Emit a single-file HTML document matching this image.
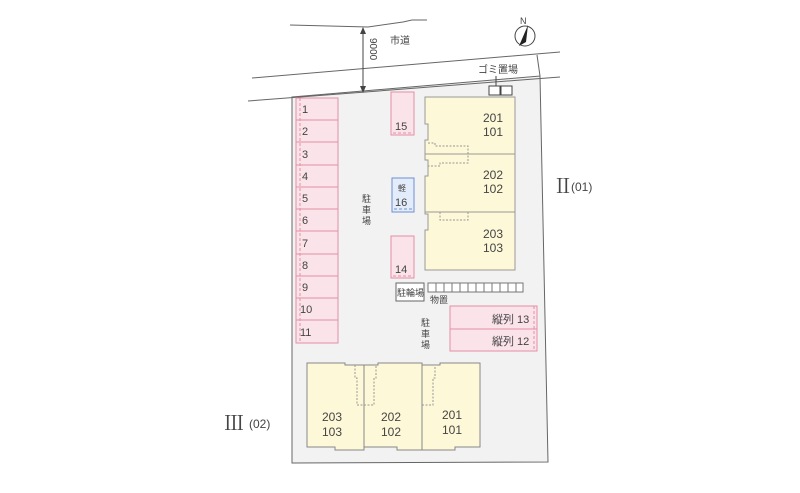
<!DOCTYPE html><html><head><meta charset="utf-8"><style>body{margin:0;background:#fff}svg{display:block}text{font-family:"Liberation Sans","Noto Sans CJK JP",sans-serif;fill:#444}</style></head><body>
<svg width="800" height="493" viewBox="0 0 800 493">
<polygon points="292,97 540,76 548,462 292,463" fill="#f2f2f3" stroke="#666" stroke-width="1"/>
<polyline points="290,25 368,27 403,22 412,20 427,20" fill="none" stroke="#666"/>
<line x1="252" y1="78" x2="560" y2="52" stroke="#666"/>
<line x1="248" y1="101" x2="560" y2="77" stroke="#666"/>
<line x1="537" y1="55" x2="540" y2="76" stroke="#666"/>
<line x1="363" y1="29" x2="363" y2="91" stroke="#444"/>
<polygon points="363,27 360,34 366,34" fill="#444"/><polygon points="363,93 360,86 366,86" fill="#444"/>
<text x="0" y="0" font-size="10" transform="translate(370,38) rotate(90)">9000</text>
<text x="390" y="44" font-size="10">市道</text>
<circle cx="525" cy="36" r="10" fill="#fff" stroke="#444"/><polygon points="528,25 519,46 526,42" fill="#222"/><text x="520" y="24" font-size="9">N</text>
<text x="478" y="73" font-size="10">ゴミ置場</text><line x1="496" y1="76" x2="496" y2="86" stroke="#444"/>
<rect x="489" y="86" width="11" height="9" fill="#fff" stroke="#444"/><rect x="501" y="86" width="11" height="9" fill="#fff" stroke="#444"/>
<g fill="#fbe3ea" stroke="#e38fa5">
<rect x="296" y="98" width="42" height="245"/>
<rect x="391" y="92" width="23" height="43"/><rect x="391" y="236" width="23" height="42"/>
<rect x="450" y="306" width="87" height="23"/><rect x="450" y="329" width="87" height="22"/>
</g>
<g stroke="#e38fa5">
<line x1="296" y1="120" x2="338" y2="120"/><line x1="296" y1="142" x2="338" y2="142"/><line x1="296" y1="165" x2="338" y2="165"/><line x1="296" y1="187" x2="338" y2="187"/><line x1="296" y1="209" x2="338" y2="209"/><line x1="296" y1="231" x2="338" y2="231"/><line x1="296" y1="254" x2="338" y2="254"/><line x1="296" y1="276" x2="338" y2="276"/><line x1="296" y1="298" x2="338" y2="298"/><line x1="296" y1="320" x2="338" y2="320"/>
<line x1="300" y1="98" x2="300" y2="343" stroke-dasharray="3,2"/>
<line x1="393" y1="133" x2="412" y2="133" stroke-dasharray="3,2"/><line x1="393" y1="276" x2="412" y2="276" stroke-dasharray="3,2"/>
<line x1="534" y1="306" x2="534" y2="351" stroke-dasharray="3,2"/>
</g>
<rect x="392" y="178" width="22" height="34" fill="#e3ecfa" stroke="#6f8fd0"/>
<line x1="394" y1="209" x2="412" y2="209" stroke="#6f8fd0" stroke-dasharray="3,2"/>
<g font-size="11"><text x="302" y="113">1</text><text x="302" y="135">2</text><text x="302" y="158">3</text><text x="302" y="180">4</text><text x="302" y="202">5</text><text x="302" y="224">6</text><text x="302" y="247">7</text><text x="302" y="269">8</text><text x="302" y="291">9</text><text x="300" y="313">10</text><text x="300" y="336">11</text>
<text x="395" y="130">15</text><text x="395" y="206">16</text><text x="395" y="273">14</text>
<text x="492" y="323">縦列 13</text><text x="492" y="345">縦列 12</text></g>
<text x="398" y="191" font-size="8">軽</text>
<g font-size="9"><text x="362" y="202">駐</text><text x="362" y="213">車</text><text x="362" y="224">場</text><text x="421" y="326">駐</text><text x="421" y="337">車</text><text x="421" y="348">場</text></g>
<polygon points="425,97 515,97 515,270 425,270 425,230 428,230 428,214 425,214 425,176 428,176 428,160 425,160 425,140 428,140 428,124 425,124" fill="#fdf8d8" stroke="#999"/>
<line x1="425" y1="154" x2="515" y2="154" stroke="#999"/><line x1="425" y1="212" x2="515" y2="212" stroke="#999"/>
<polyline points="428,143 435,143 435,146 468,146 468,163 440,163 440,166 428,166" fill="none" stroke="#999" stroke-dasharray="2,1.5"/>
<polyline points="440,212 440,220 468,220 468,212" fill="none" stroke="#999" stroke-dasharray="2,1.5"/>
<g font-size="12"><text x="483" y="122">201</text><text x="483" y="136">101</text><text x="483" y="179">202</text><text x="483" y="193">102</text><text x="483" y="238">203</text><text x="483" y="252">103</text></g>
<rect x="396" y="283" width="28" height="18" fill="#fff" stroke="#666"/><text x="397" y="296" font-size="9">駐輪場</text>
<g fill="#fff" stroke="#777"><rect x="428" y="283" width="95" height="9"/></g>
<g stroke="#777"><line x1="436" y1="283" x2="436" y2="292"/><line x1="444" y1="283" x2="444" y2="292"/><line x1="452" y1="283" x2="452" y2="292"/><line x1="460" y1="283" x2="460" y2="292"/><line x1="468" y1="283" x2="468" y2="292"/><line x1="476" y1="283" x2="476" y2="292"/><line x1="484" y1="283" x2="484" y2="292"/><line x1="492" y1="283" x2="492" y2="292"/><line x1="500" y1="283" x2="500" y2="292"/><line x1="508" y1="283" x2="508" y2="292"/><line x1="516" y1="283" x2="516" y2="292"/></g>
<text x="430" y="303" font-size="9">物置</text>
<g fill="#fdf8d8" stroke="#888">
<polygon points="307,363 345,363 345,365 364,365 364,450 335,450 335,447 307,447"/>
<polygon points="364,365 378,365 378,363 422,363 422,450 397,450 397,447 364,447"/>
<polygon points="422,365 440,365 440,363 480,363 480,447 455,447 455,450 422,450"/>
</g>
<g fill="none" stroke="#999" stroke-dasharray="2,1.5"><polyline points="355,365 355,378 357,378 357,405 374,405 374,378 376,378 376,365"/><polyline points="422,405 433,405 433,378 435,378 435,365"/></g>
<g font-size="12"><text x="322" y="421">203</text><text x="322" y="436">103</text><text x="381" y="421">202</text><text x="381" y="436">102</text><text x="442" y="419">201</text><text x="442" y="434">101</text></g>
<text x="553" y="193" font-size="20" style="font-family:'Noto Serif CJK JP',serif">Ⅱ</text><text x="571" y="191" font-size="12">(01)</text>
<text x="224" y="430" font-size="20" style="font-family:'Noto Serif CJK JP',serif">Ⅲ</text><text x="249" y="428" font-size="12">(02)</text>
</svg></body></html>
